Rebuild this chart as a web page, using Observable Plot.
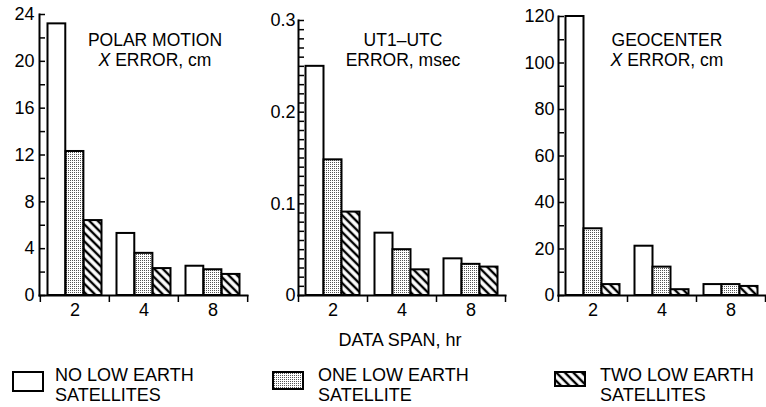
<!DOCTYPE html>
<html>
<head>
<meta charset="utf-8">
<script src="https://cdn.jsdelivr.net/npm/d3@7"></script>
<script src="https://cdn.jsdelivr.net/npm/@observablehq/plot@0.6"></script>
<style>
  body { margin: 0; background: #fff; }
  #wrap { position: relative; width: 766px; height: 407px; overflow: hidden;
          font-family: "Liberation Sans", Arial, Helvetica, sans-serif; color: #000; background: #fff; }
  .panel { position: absolute; top: 0; }
  .title { position: absolute; font-size: 17.5px; line-height: 20px; text-align: center;
           white-space: nowrap; transform: translateX(-50%); }
  .title i { font-style: italic; }
  #xlabel { position: absolute; left: 400px; top: 331px; font-size: 18px; line-height: 18px;
            transform: translateX(-50%); white-space: nowrap; }
  #legend { position: absolute; left: 0; top: 355px; }
</style>
</head>
<body>
<svg width="0" height="0" style="position:absolute">
  <defs>
    <pattern id="dots" patternUnits="userSpaceOnUse" width="2" height="2">
      <rect width="2" height="2" fill="#fff"/>
      <rect x="0" y="0" width="1" height="1" fill="#555"/>
    </pattern>
    <pattern id="hatch" patternUnits="userSpaceOnUse" width="6" height="6" patternTransform="rotate(45)">
      <rect width="6" height="6" fill="#fff"/>
      <line x1="0" y1="3" x2="6" y2="3" stroke="#000" stroke-width="2.4"/>
    </pattern>
  </defs>
</svg>
<div id="wrap"></div>
<script>
// ---- data ----
const spans = ["2", "4", "8"];
const seriesNames = ["NO LOW EARTH SATELLITES", "ONE LOW EARTH SATELLITE", "TWO LOW EARTH SATELLITES"];

const polarNone = [23.2, 5.3, 2.5];
const polarOne  = [12.3, 3.6, 2.2];
const polarTwo  = [6.4, 2.3, 1.8];

const utNone = [0.25, 0.068, 0.040];
const utOne  = [0.148, 0.050, 0.034];
const utTwo  = [0.091, 0.028, 0.031];

const geoNone = [120, 21.2, 4.7];
const geoOne  = [28.7, 12.2, 4.7];
const geoTwo  = [4.7, 2.5, 3.9];

const polarMajor = [0, 4, 8, 12, 16, 20, 24];
const polarMinor = d3.range(0, 24.01, 2);
const utMajor = [0, 0.1, 0.2, 0.3];
const utMinor = d3.range(0, 31).map(i => i / 100);
const geoMajor = [0, 20, 40, 60, 80, 100, 120];
const geoMinor = d3.range(0, 121, 10);

const fills = ["white", "url(#dots)", "url(#hatch)"];
const fontFamily = '"Liberation Sans", Arial, Helvetica, sans-serif';

const wrap = document.getElementById("wrap");

function panel({left, width, marginLeft, marginRight, marginTop, yMax, major, minor, none, one, two, labelPad}) {
  const height = 330, marginBottom = 35;
  const table = [none, one, two].flatMap((vals, k) => spans.map((s, i) => ({span: s, series: k, value: vals[i]})));
  const frameW = width - marginLeft - marginRight;
  const bw = frameW / spans.length;
  const pad = 7.5;
  const barW = (bw - 2 * pad) / 3;
  const marks = [];
  for (let k = 0; k < 3; k++) {
    marks.push(Plot.barY(table.filter(d => d.series === k), {
      x: "span", y: "value", fill: fills[k], stroke: "black", strokeWidth: 2,
      insetLeft: pad + k * barW, insetRight: pad + (2 - k) * barW
    }));
  }
  marks.push(
    Plot.frame({anchor: "left", strokeWidth: 2}),
    Plot.frame({anchor: "bottom", strokeWidth: 2}),
    Plot.axisY({ticks: minor, tickSize: -6, text: null, strokeWidth: 1.5}),
    Plot.axisY({ticks: major, tickSize: 0, tickPadding: labelPad, fontSize: 18, tickFormat: d => d === 0 ? "0" : String(d)}),
    Plot.axisX({tickSize: 0, tickPadding: 8, fontSize: 18}),
    Plot.axisX({tickSize: 7, text: null, strokeWidth: 1.5, dx: -bw / 2}),
    Plot.axisX({ticks: [spans[spans.length - 1]], tickSize: 7, text: null, strokeWidth: 1.5, dx: bw / 2})
  );
  const svg = Plot.plot({
    width, height, marginLeft, marginRight, marginTop, marginBottom,
    x: {domain: spans, padding: 0, label: null},
    y: {domain: [0, yMax], label: null},
    style: {fontFamily, fontSize: "18px", background: "transparent", color: "black", overflow: "visible"},
    marks
  });
  svg.classList.add("panel");
  svg.style.left = left + "px";
  wrap.appendChild(svg);
}

panel({left: 0, width: 250, marginLeft: 39, marginRight: 3, marginTop: 14, yMax: 24,
       major: polarMajor, minor: polarMinor, none: polarNone, one: polarOne, two: polarTwo, labelPad: 5});
panel({left: 250, width: 258, marginLeft: 48, marginRight: 3, marginTop: 20, yMax: 0.3,
       major: utMajor, minor: utMinor, none: utNone, one: utOne, two: utTwo, labelPad: 3});
panel({left: 508, width: 258, marginLeft: 50, marginRight: 1, marginTop: 16, yMax: 120,
       major: geoMajor, minor: geoMinor, none: geoNone, one: geoOne, two: geoTwo, labelPad: 4});

// ---- panel titles ----
const titles = [
  {x: 155, html: "POLAR MOTION<br><i>X</i> ERROR, cm"},
  {x: 403, html: "UT1\u2013UTC<br>ERROR, msec"},
  {x: 667, html: "GEOCENTER<br><i>X</i> ERROR, cm"}
];
for (const t of titles) {
  const d = document.createElement("div");
  d.className = "title";
  d.style.left = t.x + "px";
  d.style.top = "30px";
  d.innerHTML = t.html;
  wrap.appendChild(d);
}

const xl = document.createElement("div");
xl.id = "xlabel";
xl.textContent = "DATA SPAN, hr";
wrap.appendChild(xl);

// ---- legend ----
const legendBoxX = [13, 273, 555];
const legendTextX = [55, 318, 600];
const legendBoxH = [19, 17, 14];
const lg = d3.select(wrap).append("svg").attr("id", "legend").attr("width", 766).attr("height", 52)
  .style("font-family", fontFamily).style("font-size", "18px");
seriesNames.forEach((name, k) => {
  lg.append("rect").attr("x", legendBoxX[k]).attr("y", 17).attr("width", 30).attr("height", legendBoxH[k])
    .attr("fill", fills[k]).attr("stroke", "black").attr("stroke-width", 2);
  const lines = name.replace("EARTH ", "EARTH\n").split("\n");
  const t = lg.append("text").attr("x", legendTextX[k]).attr("y", 26).attr("fill", "black");
  lines.forEach((ln, j) => t.append("tspan").attr("x", legendTextX[k]).attr("dy", j ? 20 : 0).text(ln));
});
</script>
</body>
</html>
